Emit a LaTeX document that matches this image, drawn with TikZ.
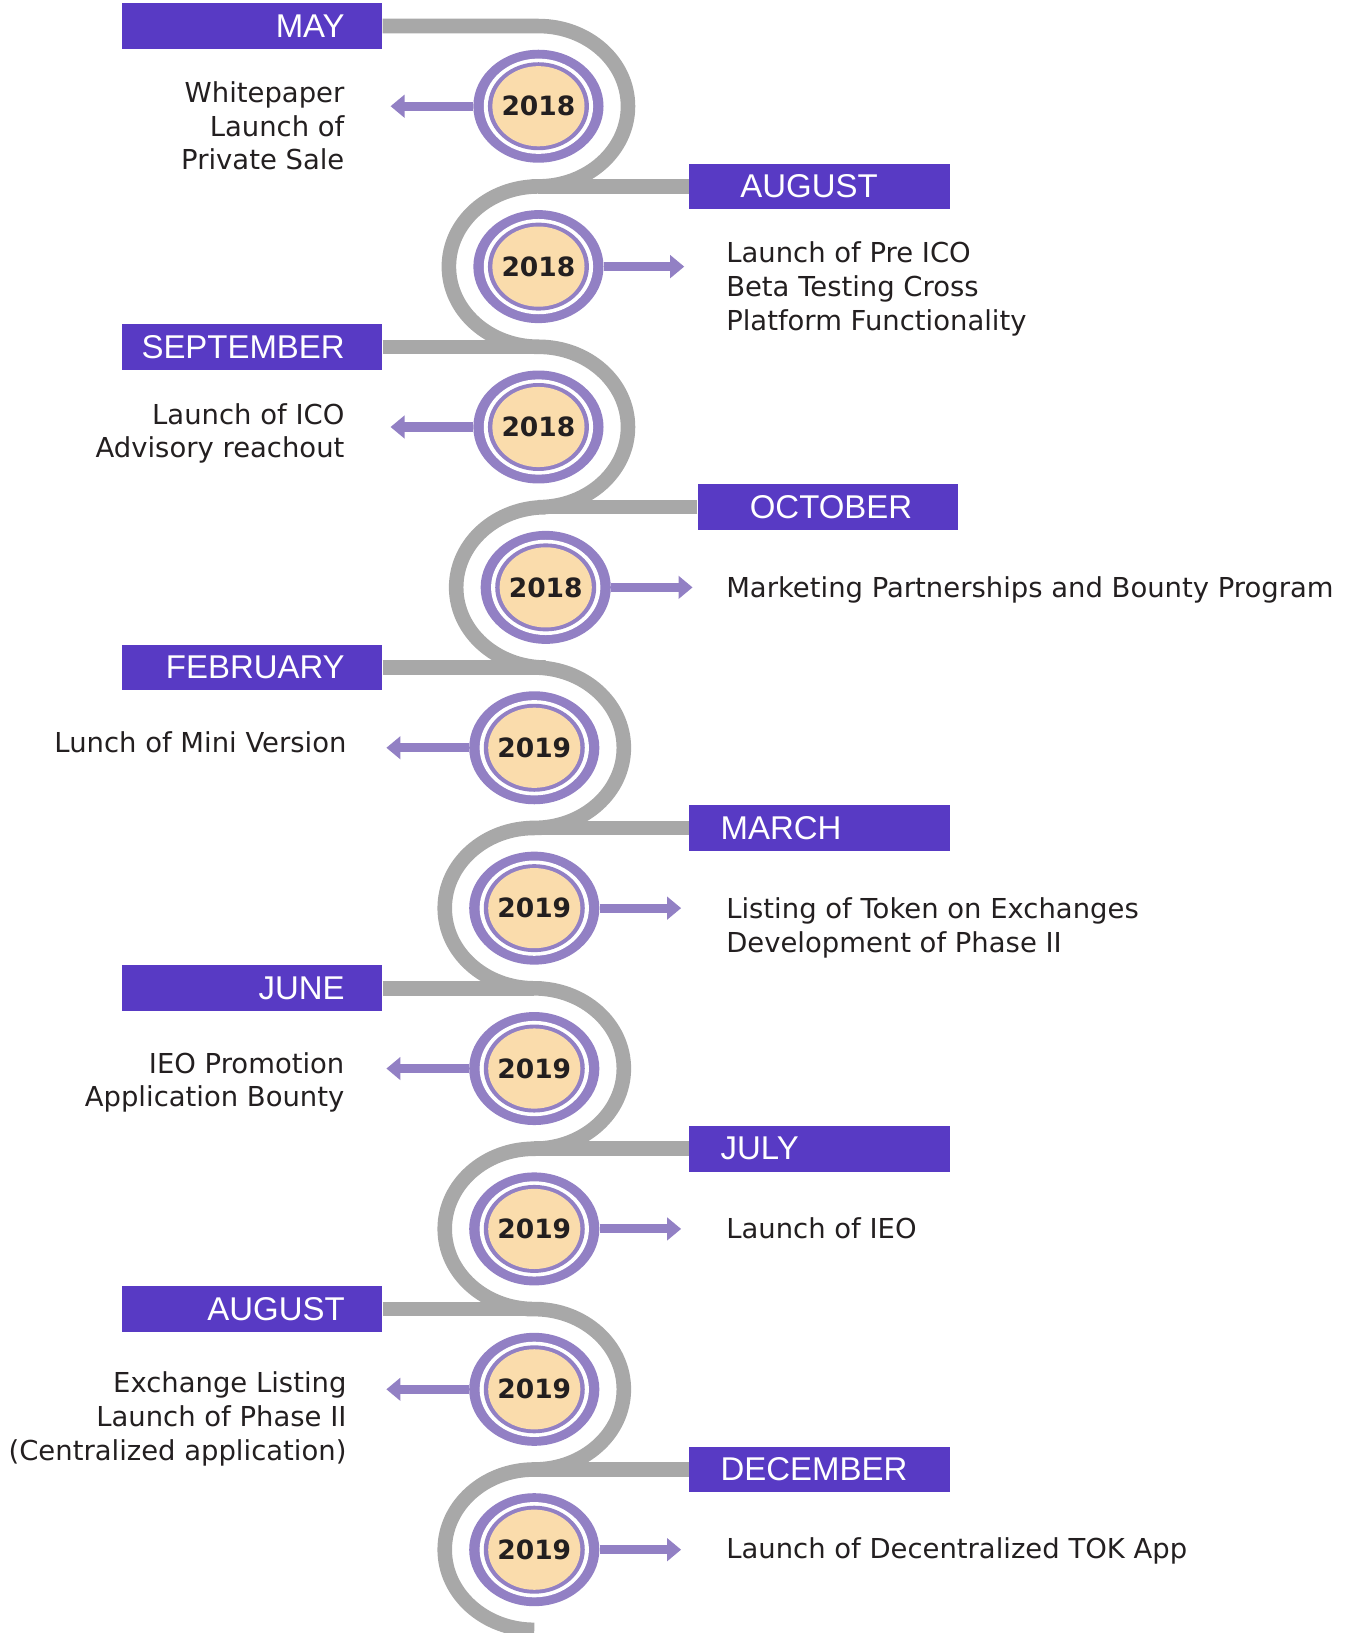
\documentclass[tikz,border=0pt]{standalone}
\usepackage{fontspec}
\setmainfont{DejaVu Sans}
\newfontfamily\monthfont{Liberation Sans}
\usetikzlibrary{positioning, arrows.meta, shapes.geometric}

\definecolor{roadgray}{RGB}{168,168,168}
\definecolor{ringpurple}{RGB}{146,128,196}
\definecolor{yearbeige}{RGB}{250,220,172}
\definecolor{monthblue}{RGB}{88,58,196}
\definecolor{textdark}{RGB}{35,31,32}

\newcommand{\lefttag}[1]{\makebox[5cm][r]{#1\hspace*{0.72cm}}}
\newcommand{\righttag}[2][0.6cm]{\makebox[5cm][l]{\hspace*{#1}#2}}

\begin{document}
\begin{tikzpicture}[
		x=0.02cm, y=-0.02cm,
		>={Triangle[length=2.7mm, width=4.3mm]},
		road/.style={draw=roadgray, line width=2.8mm},
		pointer/.style={->, draw=ringpurple, line width=1.75mm},
		year/.style={ellipse, fill=ringpurple, minimum width=2.5cm, minimum height=2.17cm, inner sep=0pt, text=textdark, font=\fontsize{14.5pt}{16pt}\selectfont\bfseries,
			path picture={
				\fill[white] (path picture bounding box.center) ellipse [x radius=1.05cm, y radius=0.915cm];
				\fill[ringpurple] (path picture bounding box.center) ellipse [x radius=0.97cm, y radius=0.845cm];
				\fill[yearbeige] (path picture bounding box.center) ellipse [x radius=0.885cm, y radius=0.77cm];
			}},
		month/.style={fill=monthblue, text=white, font=\monthfont\fontsize{18pt}{20pt}\selectfont, minimum width=5cm, minimum height=0.88cm, inner sep=0pt},
		textL/.style={anchor=north east, inner sep=0pt, align=right, text=textdark, font=\fontsize{15pt}{18.4pt}\selectfont},
		textR/.style={textL, anchor=north west, align=left}
	]

	\useasboundingbox (0,0) rectangle (1305,1568);

	\coordinate (j1) at (517,25);
	\coordinate (j2) at (517,179);
	\coordinate (j3) at (517,333);
	\coordinate (j4) at (524,487);
	\coordinate (j5) at (513,641);
	\coordinate (j6) at (513,795);
	\coordinate (j7) at (513,949);
	\coordinate (j8) at (513,1103);
	\coordinate (j9) at (513,1257);
	\coordinate (j10) at (513,1411);

	\node[month] (may) at (242,25) {\lefttag{MAY}};
	\node[month] (augA) at (787,179) {\righttag[0.98cm]{AUGUST}};
	\node[month] (sep) at (242,333) {\lefttag{SEPTEMBER}};
	\node[month] (oct) at (795,487) {\righttag[1.0cm]{OCTOBER}};
	\node[month] (feb) at (242,641) {\lefttag{FEBRUARY}};
	\node[month] (mar) at (787,795) {\righttag{MARCH}};
	\node[month] (jun) at (242,949) {\lefttag{JUNE}};
	\node[month] (jul) at (787,1103) {\righttag{JULY}};
	\node[month] (augB) at (242,1257) {\lefttag{AUGUST}};
	\node[month] (dec) at (787,1411) {\righttag{DECEMBER}};

	\draw[road] (may.east) -- (j1)
		arc[start angle=90, end angle=-90, x radius=1.72cm, y radius=1.54cm] -- (j2)
		arc[start angle=90, end angle=270, x radius=1.72cm, y radius=1.54cm] -- (j3)
		arc[start angle=90, end angle=-90, x radius=1.72cm, y radius=1.54cm] -- (j4)
		arc[start angle=90, end angle=270, x radius=1.72cm, y radius=1.54cm] -- (j5)
		arc[start angle=90, end angle=-90, x radius=1.72cm, y radius=1.54cm] -- (j6)
		arc[start angle=90, end angle=270, x radius=1.72cm, y radius=1.54cm] -- (j7)
		arc[start angle=90, end angle=-90, x radius=1.72cm, y radius=1.54cm] -- (j8)
		arc[start angle=90, end angle=270, x radius=1.72cm, y radius=1.54cm] -- (j9)
		arc[start angle=90, end angle=-90, x radius=1.72cm, y radius=1.54cm] -- (j10)
		arc[start angle=90, end angle=270, x radius=1.72cm, y radius=1.54cm];
	\draw[road] (augA.west) -- (j2);
	\draw[road] (sep.east) -- (j3);
	\draw[road] (oct.west) -- (j4);
	\draw[road] (feb.east) -- (j5);
	\draw[road] (mar.west) -- (j6);
	\draw[road] (jun.east) -- (j7);
	\draw[road] (jul.west) -- (j8);
	\draw[road] (augB.east) -- (j9);
	\draw[road] (dec.west) -- (j10);

	\node[year] (y1) at (517,102) {2018};
	\node[year] (y2) at (517,256) {2018};
	\node[year] (y3) at (517,410) {2018};
	\node[year] (y4) at (524,564) {2018};
	\node[year] (y5) at (513,718) {2019};
	\node[year] (y6) at (513,872) {2019};
	\node[year] (y7) at (513,1026) {2019};
	\node[year] (y8) at (513,1180) {2019};
	\node[year] (y9) at (513,1334) {2019};
	\node[year] (y10) at (513,1488) {2019};

	\coordinate (t1) at (375,102);
	\coordinate (t2) at (657,256);
	\coordinate (t3) at (375,410);
	\coordinate (t4) at (665,564);
	\coordinate (t5) at (371,718);
	\coordinate (t6) at (654,872);
	\coordinate (t7) at (371,1026);
	\coordinate (t8) at (654,1180);
	\coordinate (t9) at (371,1334);
	\coordinate (t10) at (654,1488);
	\draw[pointer] (y1.west) -- (t1);
	\draw[pointer] (y2.east) -- (t2);
	\draw[pointer] (y3.west) -- (t3);
	\draw[pointer] (y4.east) -- (t4);
	\draw[pointer] (y5.west) -- (t5);
	\draw[pointer] (y6.east) -- (t6);
	\draw[pointer] (y7.west) -- (t7);
	\draw[pointer] (y8.east) -- (t8);
	\draw[pointer] (y9.west) -- (t9);
	\draw[pointer] (y10.east) -- (t10);

	\node[textL] (txt1) at (331,78) {Whitepaper\\Launch of\\Private Sale};
	\node[textR] (txt2) at (697,232) {Launch of Pre ICO\\Beta Testing Cross\\Platform Functionality};
	\node[textL] (txt3) at (331,387) {Launch of ICO\\Advisory reachout};
	\node[textR] (txt4) at (697,553) {Marketing Partnerships and Bounty Program};
	\node[textL] (txt5) at (333,702) {Lunch of Mini Version};
	\node[textR] (txt6) at (697,862) {Listing of Token on Exchanges\\Development of Phase II};
	\node[textL] (txt7) at (331,1010) {IEO Promotion\\Application Bounty};
	\node[textR] (txt8) at (697,1169) {Launch of IEO};
	\node[textL] (txt9) at (333,1317) {Exchange Listing\\Launch of Phase II\\(Centralized application)};
	\node[textR] (txt10) at (697,1476) {Launch of Decentralized TOK App};

\end{tikzpicture}
\end{document}
